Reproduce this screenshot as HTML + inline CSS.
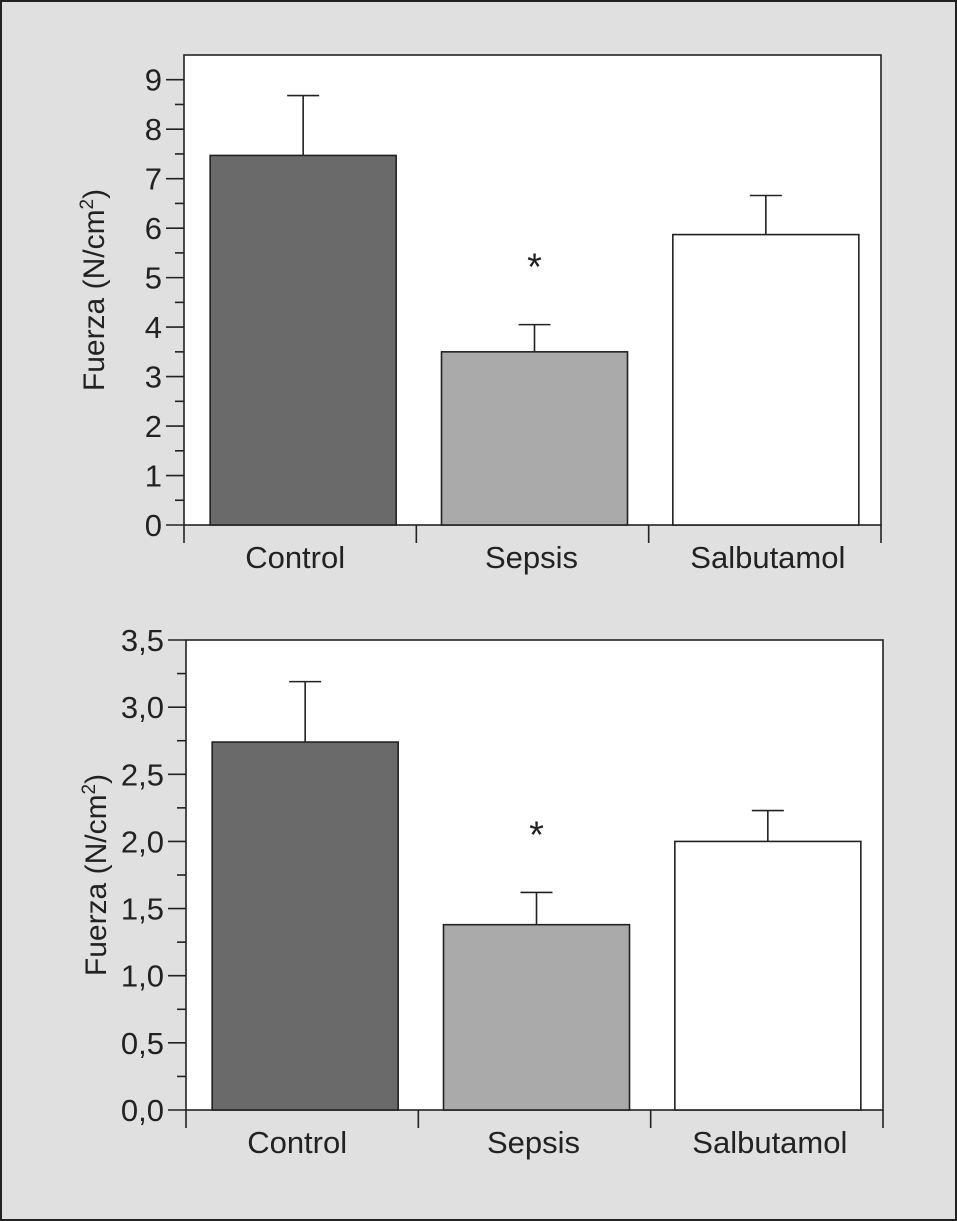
<!DOCTYPE html>
<html><head><meta charset="utf-8"><style>
html,body{margin:0;padding:0;background:#e0e0e0;}
svg{display:block;font-family:"Liberation Sans",sans-serif;}
</style></head><body>
<svg id="fig" width="957" height="1221" viewBox="0 0 957 1221">
<rect x="1" y="1" width="955" height="1219" fill="#e0e0e0" stroke="#222" stroke-width="2"/>
</svg>
<script>
const categories = ["Control","Sepsis","Salbutamol"];
const topValues = [7.47, 3.5, 5.87];
const topErrors = [8.68, 4.05, 6.66];
const topTicks = ["0","1","2","3","4","5","6","7","8","9"];
const botValues = [2.74, 1.38, 2.0];
const botErrors = [3.19, 1.62, 2.23];
const botTicks = ["0,0","0,5","1,0","1,5","2,0","2,5","3,0","3,5"];
const fills = ["#6a6a6a","#aaaaaa","#ffffff"];
const sigMarks = ["", "*", ""];

const NS="http://www.w3.org/2000/svg";
const svg=document.getElementById('fig');
function mk(tag,attrs,parent){const e=document.createElementNS(NS,tag);for(const k in attrs)e.setAttribute(k,attrs[k]);(parent||svg).appendChild(e);return e;}

function chart(prefix,cfg,values,errors,ticks){
  const g=mk('g',{});
  
  
  const {x0,x1,yTop,yBot,vMax,tickStep}=cfg;
  const y=v=>yBot-(v/vMax)*(yBot-yTop);
  const plot=mk('rect',{x:x0,y:yTop,width:x1-x0,height:yBot-yTop,fill:'#fff',stroke:'#222','stroke-width':1.6},g);
  
  
  ticks.forEach((t,i)=>{
    const v=i*tickStep, yy=y(v);
    const l=mk('line',{x1:x0-18,x2:x0,y1:yy,y2:yy,stroke:'#222','stroke-width':1.6},g);
    
    
    const tx=mk('text',{x:x0-22,y:yy+11,'text-anchor':'end','font-size':31,fill:'#222'},g);
    tx.textContent=t;
    
    
    if(i<ticks.length-1){
      const ym=y(v+tickStep/2);
      const m=mk('line',{x1:x0-9,x2:x0,y1:ym,y2:ym,stroke:'#222','stroke-width':1.6},g);
      
      
    }
  });
  const bw=(x1-x0)/categories.length;
  for(let i=0;i<=categories.length;i++){
    const xx=x0+i*bw;
    const l=mk('line',{x1:xx,x2:xx,y1:yBot,y2:yBot+18,stroke:'#222','stroke-width':1.6},g);
    
    
  }
  categories.forEach((c,i)=>{
    const cx=x0+(i+0.5)*bw+3-i*1, half=93;
    const ey=y(errors[i]), by=y(values[i]);
    const e=mk('path',{d:`M${cx},${by}V${ey}M${cx-16},${ey}H${cx+16}`,stroke:'#222','stroke-width':1.6,fill:'none'},g);
    
    
    const b=mk('rect',{x:cx-half,y:by,width:half*2,height:yBot-by,fill:fills[i],stroke:'#222','stroke-width':1.6},g);
    
    
    const lt=mk('text',{x:x0+(i+0.5)*bw-5+i*4,y:yBot+43,'text-anchor':'middle','font-size':31,fill:'#222'},g);
    lt.textContent=c;
    
    
    if(sigMarks[i]){
      const s=mk('text',{x:cx,y:ey-45,'text-anchor':'middle','font-size':38,fill:'#222'},g);
      s.textContent=sigMarks[i];
      
      
    }
  });
  const cy=(yTop+yBot)/2;
  const at=mk('text',{x:0,y:0,transform:`translate(${x0-80},${cy}) rotate(-90)`,'text-anchor':'middle','font-size':30,fill:'#222'},g);
  at.innerHTML='Fuerza (N/cm<tspan dy="-11" font-size="19">2</tspan><tspan dy="11">)</tspan>';
  
  
}
chart('top',{x0:184,x1:881,yTop:55,yBot:525,vMax:9.5,tickStep:1},topValues,topErrors,topTicks);
chart('bottom',{x0:186,x1:883,yTop:640,yBot:1110,vMax:3.5,tickStep:0.5},botValues,botErrors,botTicks);
</script>
</body></html>
